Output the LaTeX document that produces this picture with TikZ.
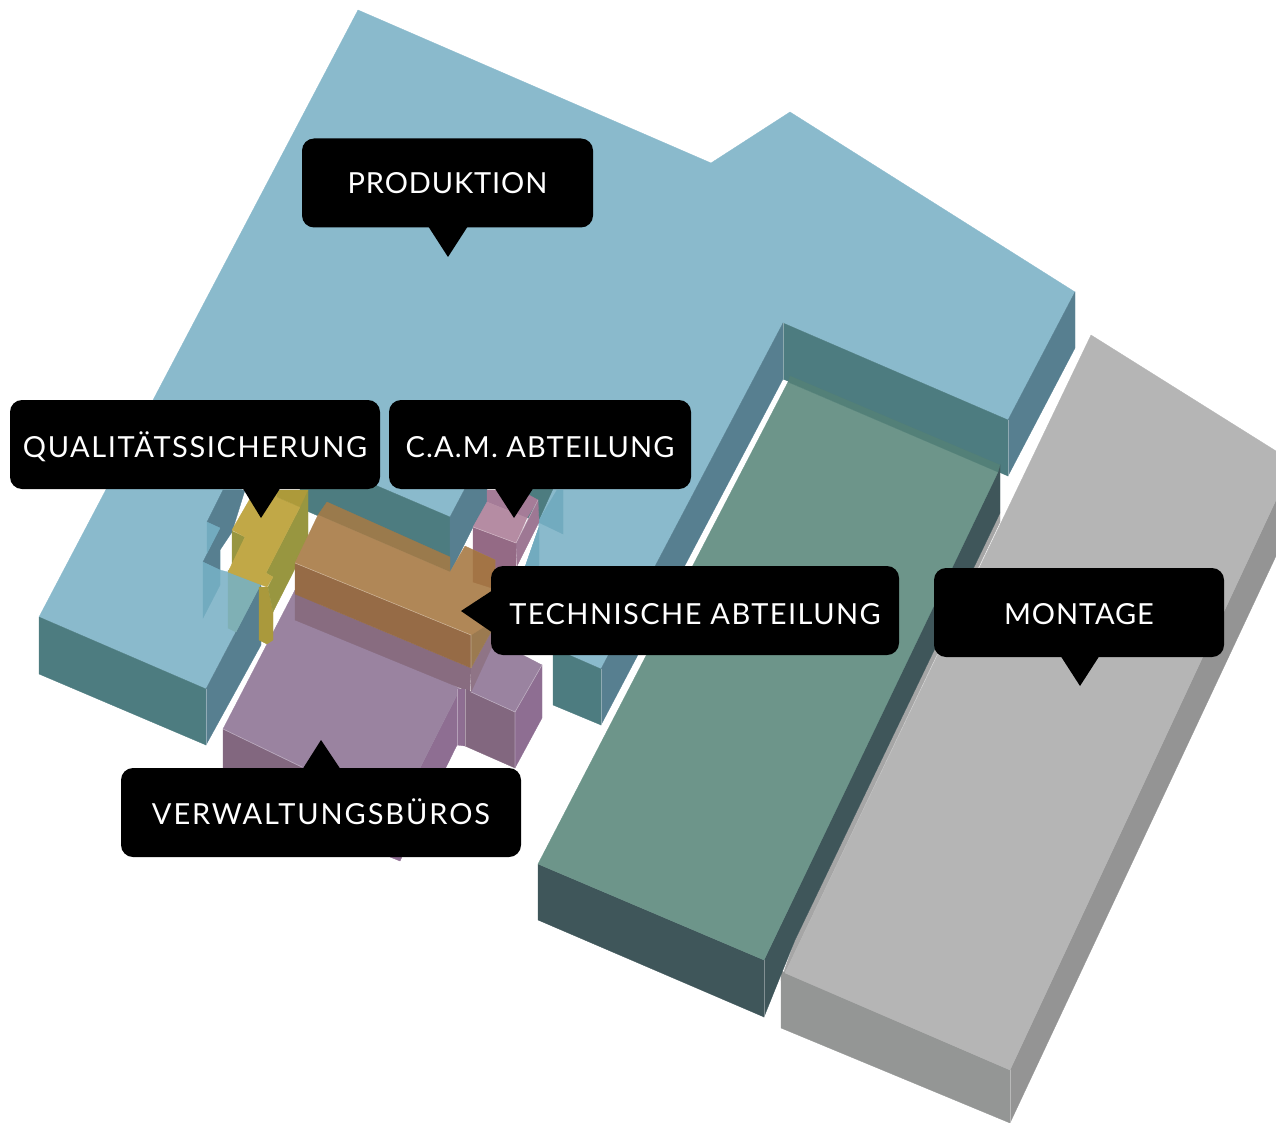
\documentclass[tikz,border=0pt]{standalone}
\usepackage{fontspec}
\setmainfont{Lato}
\definecolor{bluetop}{HTML}{8ABACC}
\definecolor{bluewall}{HTML}{577F90}
\definecolor{teal}{HTML}{4D7C80}
\definecolor{bluepale}{HTML}{72ABBF}
\definecolor{greentop}{HTML}{6D958A}
\definecolor{greenband}{HTML}{538078}
\definecolor{greenside}{HTML}{3F565A}
\definecolor{graytop}{HTML}{B5B5B5}
\definecolor{grayside}{HTML}{949494}
\definecolor{grayfront}{HTML}{949695}
\definecolor{graystrip}{HTML}{A6A6A6}
\definecolor{purtop}{HTML}{9A83A0}
\definecolor{purfront}{HTML}{82677F}
\definecolor{purside}{HTML}{8E6E92}
\definecolor{purband}{HTML}{886C80}
\definecolor{purjoin}{HTML}{8F7486}
\definecolor{ortop}{HTML}{B08757}
\definecolor{orfront}{HTML}{966B46}
\definecolor{orside}{HTML}{9B7A50}
\definecolor{orband}{HTML}{9A7A4C}
\definecolor{ordark}{HTML}{A37445}
\definecolor{pinktop}{HTML}{B58CA3}
\definecolor{pinkband}{HTML}{A57C98}
\definecolor{pinkfront}{HTML}{946A85}
\definecolor{pinkside}{HTML}{9E7894}
\definecolor{yeltop}{HTML}{C1A847}
\definecolor{yelband}{HTML}{AD9A3A}
\definecolor{yelside}{HTML}{989640}
\definecolor{yelfront}{HTML}{AA993C}
\definecolor{palegreen}{HTML}{7FB0B5}
\tikzset{
  face/.style={fill=#1,draw=#1,line width=.3pt},
  callout/.style 2 args={fill=black,text=white,rounded corners=12pt,inner sep=0pt,minimum height=89pt,align=center,
    text height=30pt,text depth={30pt-2*#1},font=\fontsize{29}{34}\selectfont\addfontfeature{LetterSpace=#2}},
  pointer/.style={fill=black},
  hair/.style={draw=white,draw opacity=.35,line width=.6pt}
}
\begin{document}
\begin{tikzpicture}[x=1pt,y=-1pt]
\useasboundingbox (0,0) rectangle (1276,1123);
% --- Gray hall
\path[face=grayside] (1276,500) -- (1276,556) -- (1010,1123) -- (1010,1070) -- cycle;
\path[face=graystrip] (1000,513) -- (1000,522) -- (785,973) -- (781,971) -- (781,980) -- (795,940) -- cycle;
\path[face=grayfront] (781,971) -- (1010,1070) -- (1010,1123) -- (781,1028) -- cycle;
\path[face=graytop] (1091,335) -- (1276,451) -- (1276,500) -- (1010,1070) -- (785,973) -- cycle;
% --- Blue hall
\path[face=bluetop] (358,10) -- (711,163) -- (790,112) -- (1075,292) -- (1008,420) -- (783,323) -- (601,669) -- (553,648) -- (517,590) -- (539,527) -- (532,490) -- (487,470) -- (480,460) -- (450,517) -- (300,453) -- (225,500) -- (220,550) -- (220,570) -- (228,572) -- (259,587) -- (206,689) -- (39,617) -- cycle;
\path[face=bluewall] (1075,292) -- (1075,348) -- (1008,476) -- (1008,420) -- cycle;
\path[face=teal] (783,323) -- (1008,420) -- (1008,476) -- (783,379) -- cycle;
\path[face=bluewall] (783,323) -- (783,379) -- (601,725) -- (601,669) -- cycle;
\path[face=teal] (553,648) -- (601,669) -- (601,725) -- (553,705) -- cycle;
\path[face=teal] (39,617) -- (206,689) -- (206,745) -- (39,674) -- cycle;
\path[face=bluewall] (206,689) -- (261,584) -- (261,645) -- (206,745) -- cycle;
\path[face=palegreen] (228,570) -- (261,584) -- (236,632) -- (228,628) -- cycle;
\path[face=bluewall] (207,522) -- (223,490) -- (245,490) -- (232,532) -- (220,550) -- (220,570) -- (203,562) -- (220,528) -- cycle;
\path[face=bluepale] (207,522) -- (220,528) -- (207,553) -- cycle;
\path[face=bluepale] (203,562) -- (220,570) -- (220,585) -- (203,618) -- cycle;
\path[face=teal] (300,453) -- (450,517) -- (450,573) -- (300,508) -- cycle;
\path[face=bluewall] (450,517) -- (480,460) -- (487,460) -- (487,505) -- (473,527) -- (450,573) -- cycle;
\path[face=teal] (532,480) -- (557,480) -- (538,522) -- (520,515) -- cycle;
\path[face=bluepale] (538,522) -- (563,534) -- (563,490) -- (557,490) -- cycle;
\path[face=bluepale] (539,527) -- (539,565) -- (525,590) -- (517,590) -- cycle;
% --- Green hall
\path[face=greenside] (1000,465) -- (1000,513) -- (795,940) -- (764,1017) -- (764,960) -- cycle;
\path[face=greenside] (538,864) -- (764,960) -- (764,1017) -- (538,920) -- cycle;
\path[face=greentop] (788,382) -- (998,472) -- (764,960) -- (538,864) -- cycle;
\path[face=greenband] (790,376) -- (1000,465) -- (998,472) -- (788,382) -- cycle;
% --- Purple offices
\path[face=purfront] (223,729) -- (420,813) -- (420,840) -- (223,785) -- cycle;
\path[face=purside] (460,689) -- (457,745) -- (400,861) -- (390,857) -- (420,768) -- cycle;
\path[face=purtop] (295,590) -- (460,689) -- (420,768) -- (396,813) -- (223,729) -- cycle;
\path[face=purband] (295,594) -- (471,668) -- (470,692) -- (295,620) -- cycle;
\path[face=purside] (457,689) -- (465,689) -- (465,746) -- (457,745) -- cycle;
\path[face=purfront] (465,689) -- (515,712) -- (515,768) -- (465,746) -- cycle;
\path[face=purside] (515,712) -- (542,665) -- (542,718) -- (515,768) -- cycle;
\path[face=purtop] (471,692) -- (490,638) -- (542,665) -- (515,712) -- cycle;
\path[face=purjoin] (471,668) -- (492,630) -- (495,640) -- (471,692) -- cycle;
% --- Pink CAM
\path[face=pinkside] (516,543) -- (538,500) -- (539,522) -- (517,566) -- cycle;
\path[face=pinkfront] (473,527) -- (516,543) -- (516,600) -- (473,582) -- cycle;
\path[face=pinkband] (487,502) -- (487,490) -- (520,490) -- (538,500) -- (527,518) -- cycle;
\path[face=pinktop] (473,527) -- (487,502) -- (527,518) -- (516,543) -- cycle;
% --- Yellow QS
\path[face=yelfront] (259,587) -- (268,587) -- (273,612) -- (273,640) -- (267,644) -- (259,640) -- cycle;
\path[face=yelside] (300,507) -- (308,490) -- (308,543) -- (273,612) -- (268,587) -- (273,577) -- (266,573) -- cycle;
\path[face=yelside] (232,531) -- (245,537) -- (232,565) -- cycle;
\path[face=yeltop] (232,530) -- (255,490) -- (277,490) -- (277,497) -- (300,507) -- (266,573) -- (273,577) -- (267,587) -- (228,572) -- (245,537) -- cycle;
\path[face=yelband] (277,490) -- (308,490) -- (300,507) -- (277,497) -- cycle;
% --- Orange technical
\path[face=orband] (327,502) -- (450,557) -- (450,572) -- (318,515) -- cycle;
\path[face=orfront] (295,563) -- (471,635) -- (471,668) -- (295,594) -- cycle;
\path[face=orside] (471,635) -- (492,600) -- (492,630) -- (471,668) -- cycle;
\path[face=ortop] (295,563) -- (318,515) -- (450,572) -- (465,546) -- (495,560) -- (495,620) -- (471,635) -- cycle;
\path[face=ordark] (473,550) -- (495,560) -- (495,589) -- (473,582) -- cycle;
% --- hairlines
\draw[hair] (1008,420) -- (1008,476);
\draw[hair] (783,323) -- (783,379);
\draw[hair] (206,689) -- (206,745);
\draw[hair] (601,669) -- (601,725);
\draw[hair] (764,960) -- (764,1017);
\draw[hair] (1010,1070) -- (1010,1123);
\draw[hair] (295,563) -- (471,635) -- (471,668);
\draw[hair] (223,729) -- (302,767);
\draw[hair] (471,692) -- (515,712) -- (515,768);
\draw[hair] (515,712) -- (542,665);
\draw[hair] (457,689) -- (457,745);
\draw[hair] (465,689) -- (465,746);
\draw[hair] (473,527) -- (516,543) -- (538,500);
% --- Callouts
\fill[pointer] (428,226) -- (448,257) -- (468,226) -- cycle;
\node[callout={11pt}{3},minimum width=291pt] (prod) at (447.5,183) {PRODUKTION};
\fill[pointer] (242,487) -- (261,518) -- (281,487) -- cycle;
\node[callout={12.5pt}{5.5},minimum width=370pt] (qs) at (195,444.5) {QUALITÄTSSICHERUNG};
\fill[pointer] (494,487) -- (514,518) -- (534,487) -- cycle;
\node[callout={12.5pt}{4},minimum width=302pt] (cam) at (540,444.5) {C.A.M. ABTEILUNG};
\fill[pointer] (493,590) -- (461,611) -- (493,633) -- cycle;
\node[callout={13.5pt}{5},minimum width=408pt] (tech) at (695,610.5) {TECHNISCHE ABTEILUNG};
\fill[pointer] (1060,655) -- (1080,686) -- (1100,655) -- cycle;
\node[callout={11.5pt}{3},minimum width=290pt] (mont) at (1079,612.5) {MONTAGE};
\fill[pointer] (302,770) -- (321,740) -- (341,770) -- cycle;
\node[callout={11.5pt}{6.6},minimum width=400pt] (verw) at (321,812.5) {VERWALTUNGSBÜROS};
\end{tikzpicture}
\end{document}
